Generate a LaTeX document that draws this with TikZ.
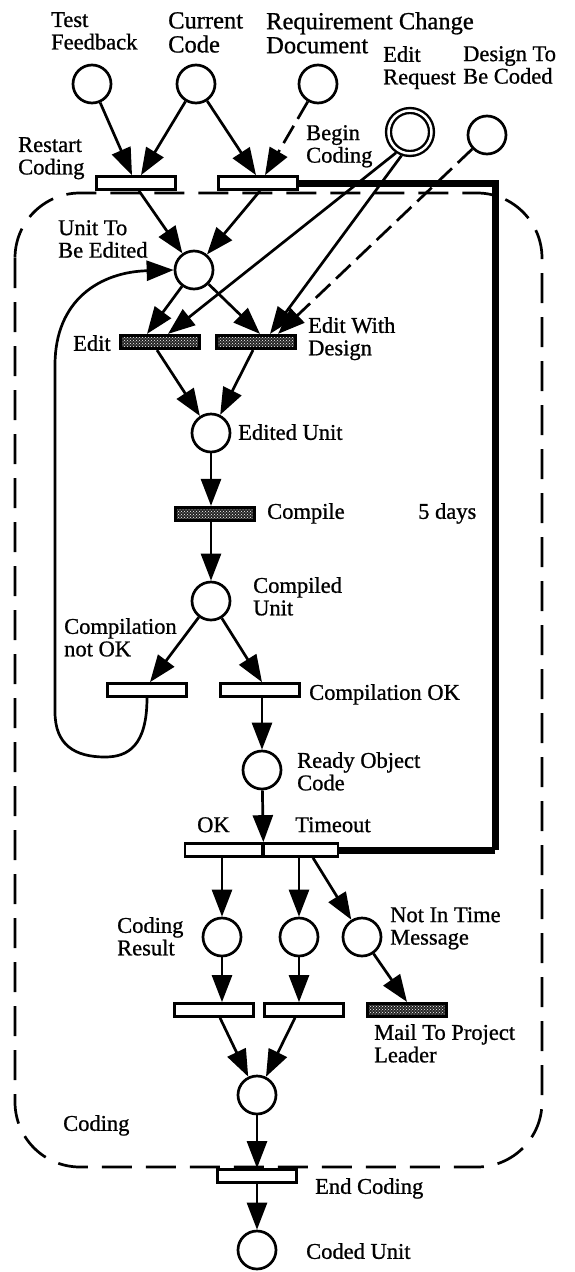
\documentclass[tikz,border=0pt]{standalone}
\usepackage{fontspec}
\setmainfont{Liberation Serif}[FakeBold=0.9]
\usetikzlibrary{arrows.meta,patterns,calc}
\begin{document}
\begin{tikzpicture}[x=1pt,y=-1pt,
  place/.style={circle,draw,line width=2.7pt,minimum size=38pt,inner sep=0pt,fill=white},
  trans/.style={rectangle,draw,line width=2.7pt,minimum width=79pt,minimum height=13pt,inner sep=0pt,fill=white},
  darktrans/.style={rectangle,draw,line width=3.2pt,minimum width=79pt,minimum height=13pt,inner sep=0pt,
    preaction={fill=black!85},pattern=crosshatch dots,pattern color=white},
  arc/.style={line width=2.7pt,-{Triangle[length=27pt,width=20pt]}},
  darc/.style={arc,dash pattern=on 20pt off 8pt},
  lbl/.style={anchor=north west,inner sep=0pt,align=left,font=\fontsize{22.5}{22.5}\selectfont},
  biglbl/.style={lbl,font=\fontsize{24.5}{24}\selectfont},
  boundary/.style={line width=2.7pt,dash pattern=on 30pt off 14pt,rounded corners=65pt},
  timer/.style={line width=7pt,line join=miter}
]
\useasboundingbox (0,0) rectangle (574,1272);

% subnet boundary
\draw[boundary] (15,193) rectangle (542,1167);

% 5 days timer connection
\coordinate (tr) at (495,183);
\coordinate (br) at (495,850);

% places
\node[place] (TF) at (92,84) {};
\node[place] (CC) at (196,84) {};
\node[place] (RCD) at (318,84) {};
\node[place,minimum size=43pt,double,double distance=2.5pt,line width=2.4pt] (ER) at (410,132) {};
\node[place] (DTBC) at (487,135) {};
\node[place] (UTBE) at (194,270) {};
\node[place] (EU) at (211,433) {};
\node[place] (CU) at (211,601) {};
\node[place] (ROC) at (262,770) {};
\node[place] (CR) at (222,937) {};
\node[place] (MID) at (299,937) {};
\node[place] (NIT) at (362,937) {};
\node[place] (FIN) at (257,1095) {};
\node[place] (CDU) at (257,1250) {};

% transitions
\node[trans] (RC) at (136,183) {};
\node[trans] (BC) at (258,183) {};
\draw[timer] (BC.east) -- (tr) -- (br);
\node[darktrans] (ED) at (160,342) {};
\node[darktrans] (EWD) at (256,342) {};
\node[darktrans] (CMP) at (215,514) {};
\node[trans] (CNOK) at (147,690) {};
\node[trans] (COK) at (260,690) {};
\node[trans,minimum width=77pt] (OK) at (223.5,850) {};
\node[trans,minimum width=76pt] (TO) at (300,850) {};
\draw[timer] (br) -- (TO.east);
\node[trans] (L) at (214,1010) {};
\node[trans] (R) at (304,1010) {};
\node[darktrans] (MAIL) at (407,1010) {};
\node[trans] (END) at (257,1176) {};

% arcs
\draw[arc] (TF) -- ([xshift=-4pt]RC.north);
\draw[arc] (CC) -- ([xshift=5pt]RC.north);
\draw[arc] (CC) -- ([xshift=-2pt]BC.north);
\draw[darc] (RCD) -- ([xshift=7pt]BC.north);
\draw[arc] ([xshift=3pt]RC.south) -- (UTBE);
\draw[arc] ([xshift=2pt]BC.south) -- (UTBE);
\draw[arc] (UTBE) -- ([xshift=-13pt]ED.north);
\draw[arc] (UTBE) -- ([xshift=4pt]EWD.north);
\draw[arc,shorten <=2.5pt] (ER.238) -- ([xshift=8pt]ED.north);
\draw[arc,shorten <=2.5pt] (ER.252) -- ([xshift=14pt]EWD.north);
\draw[darc] (DTBC) -- ([xshift=22pt]EWD.north);
\draw[arc] ([xshift=-3pt]ED.south) -- (EU);
\draw[arc] ([xshift=-3pt]EWD.south) -- (EU);
\draw[arc] (EU) -- (EU |- CMP.north);
\draw[arc] (CMP.south -| CU) -- (CU);
\draw[arc] (CU) -- ([xshift=3pt]CNOK.north);
\draw[arc] (CU) -- ([xshift=2pt]COK.north);
\draw[arc] (COK.south -| ROC) -- (ROC);
\draw[arc] (ROC) -- (OK.north east);
\draw[arc] (OK.south -| CR) -- (CR);
\draw[arc] (TO.south -| MID) -- (MID);
\draw[arc] ([xshift=13pt]TO.south) -- (NIT);
\draw[arc] (CR) -- (CR |- L.north);
\draw[arc] (MID) -- (MID |- R.north);
\draw[arc] (NIT) -- (MAIL.north);
\draw[arc] ([xshift=6pt]L.south) -- (FIN);
\draw[arc] ([xshift=-9pt]R.south) -- (FIN);
\draw[arc] (FIN) -- (END);
\draw[arc] (END) -- (CDU);
\draw[arc] (CNOK.south) .. controls +(0,48) and (128,757) .. (105,757)
  .. controls (75,757) and (55,745) .. (55,712) -- (55,365)
  .. controls (55,300) and (100,272) .. (UTBE.west);
\draw[line width=2.7pt] (OK.north east) -- (OK.south east);

% labels
\node[lbl] (lTF) at (51,12) {Test\\Feedback};
\node[biglbl] (lCC) at (168,12) {Current\\Code};
\node[biglbl] (lRCD) at (266,12) {Requirement Change\\Document};
\node[lbl] (lER) at (383,46) {Edit\\Request};
\node[lbl] (lDTBC) at (463,46) {Design To\\Be Coded};
\node[lbl] (lRC) at (18,137) {Restart\\Coding};
\node[lbl] (lBC) at (306,125) {Begin\\Coding};
\node[lbl] (lUTBE) at (58,220) {Unit To\\Be Edited};
\node[lbl] (lED) at (73,335) {Edit};
\node[lbl] (lEWD) at (308,317) {Edit With\\Design};
\node[lbl] (lEU) at (238,424) {Edited Unit};
\node[lbl] (lCMP) at (267,503) {Compile};
\node[lbl] (l5d) at (418,503) {5 days};
\node[lbl] (lCU) at (253,577) {Compiled\\Unit};
\node[lbl] (lCNOK) at (64,618) {Compilation\\not OK};
\node[lbl] (lCOK) at (309,684) {Compilation OK};
\node[lbl] (lROC) at (297,752) {Ready Object\\Code};
\node[lbl] (lOK) at (197,817) {OK};
\node[lbl] (lTO) at (295,817) {Timeout};
\node[lbl] (lCR) at (117,917) {Coding\\Result};
\node[lbl] (lNIT) at (390,907) {Not In Time\\Message};
\node[lbl] (lMAIL) at (374,1024) {Mail To Project\\Leader};
\node[lbl] (lCod) at (63,1115) {Coding};
\node[lbl] (lEND) at (315,1178) {End Coding};
\node[lbl] (lCDU) at (306,1243) {Coded Unit};
\end{tikzpicture}
\end{document}
